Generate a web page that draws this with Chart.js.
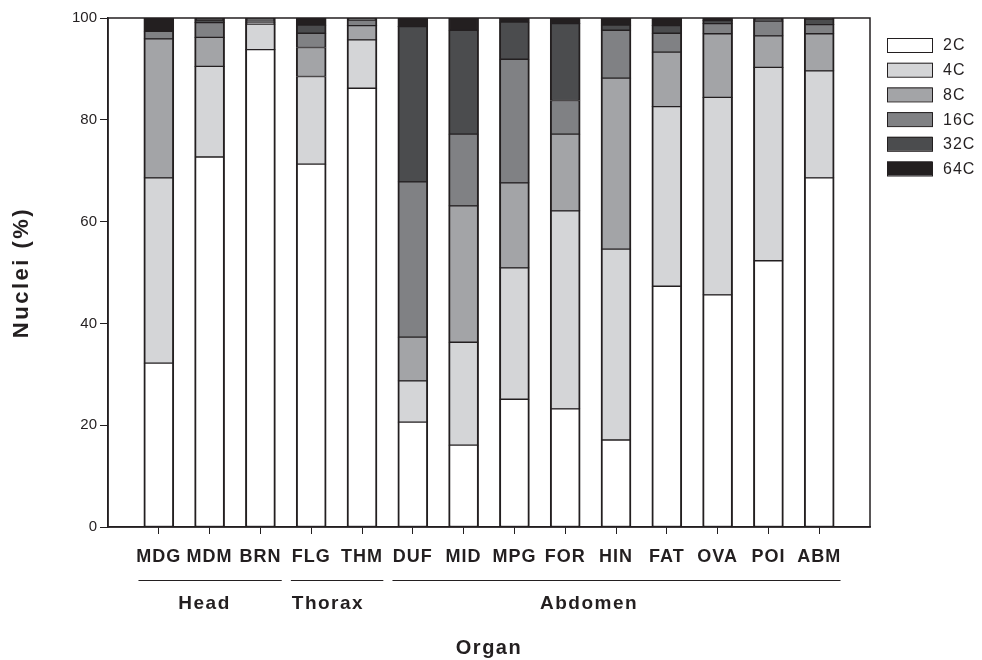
<!DOCTYPE html>
<html>
<head>
<meta charset="utf-8">
<script src="https://cdn.jsdelivr.net/npm/chart.js@4"></script>
<style>
	html, body { margin: 0; padding: 0; background: #ffffff; }
	#wrap { width: 982px; height: 660px; }
</style>
</head>
<body>
<div id="wrap"><canvas id="ploidyChart"></canvas></div>
<script>
const INK = '#231f20';

const organs = ['MDG', 'MDM', 'BRN', 'FLG', 'THM', 'DUF', 'MID', 'MPG', 'FOR', 'HIN', 'FAT', 'OVA', 'POI', 'ABM'];
const ploidyLabels = ['2C', '4C', '8C', '16C', '32C', '64C'];
const ploidyColors = ['#ffffff', '#d4d5d7', '#a3a4a7', '#808184', '#4b4c4e', '#231f20'];

const c2 = [32.2, 72.7, 93.8, 71.3, 86.2, 20.6, 16.1, 25.1, 23.2, 17.1, 47.3, 45.6, 52.3, 68.6];
const c4 = [36.4, 17.8, 5.0, 17.2, 9.5, 8.1, 20.2, 25.8, 38.9, 37.5, 35.3, 38.8, 38.0, 21.0];
const c8 = [27.3, 5.7, 0.4, 5.7, 2.8, 8.6, 26.8, 16.7, 15.1, 33.6, 10.7, 12.5, 6.2, 7.3];
const c16 = [1.5, 2.9, 0.4, 2.8, 1.1, 30.5, 14.1, 24.3, 6.6, 9.4, 3.7, 2.0, 2.9, 1.8];
const c32 = [0, 0.5, 0.2, 1.6, 0.2, 30.5, 20.4, 7.3, 15.1, 1.0, 1.5, 0.6, 0.4, 1.1];
const c64 = [2.6, 0.4, 0.2, 1.4, 0.2, 1.7, 2.4, 0.8, 1.1, 1.4, 1.5, 0.5, 0.2, 0.2];

const yTicks = [0, 20, 40, 60, 80, 100];

// body regions, by first and last organ index
const groupNames = ['Head', 'Thorax', 'Abdomen'];
const groupFirst = [0, 3, 5];
const groupLast = [2, 4, 13];

const series = [c2, c4, c8, c16, c32, c64];
const positions = organs.map((_, i) => i + 1);


function withSpacing(scale, fn, spacing) {
	if (scale['_orig_' + fn]) return;
	const orig = scale[fn];
	scale['_orig_' + fn] = orig;
	scale[fn] = function (...args) {
		const ctx = this.ctx;
		const old = ctx.letterSpacing;
		ctx.letterSpacing = spacing;
		orig.apply(this, args);
		ctx.letterSpacing = old;
	};
}

let plugins = [
	{
		id: 'letterSpacing',
		afterLayout: (chart) => {
			withSpacing(chart.scales.x, 'drawLabels', '1px');
			withSpacing(chart.scales.x, 'drawTitle', '1.5px');
			withSpacing(chart.scales.y, 'drawTitle', '2.5px');
		},
	},
	{
		id: 'frameBox',
		afterDatasetsDraw: (chart) => {
			const { ctx, chartArea: { top, right, bottom, left } } = chart;
			ctx.save();
			ctx.strokeStyle = INK;
			ctx.lineWidth = 1.5;
			ctx.strokeRect(left, top, right - left, bottom - top);
			ctx.restore();
		},
	},
	{
		id: 'organGroups',
		afterDraw: (chart, args, opts) => {
			const { ctx, scales: { x } } = chart;
			ctx.save();
			ctx.strokeStyle = INK;
			ctx.fillStyle = INK;
			ctx.lineWidth = 1;
			ctx.font = 'bold 19px "Liberation Sans", Arial, sans-serif';
			ctx.letterSpacing = '1.5px';
			ctx.textAlign = 'center';
			ctx.textBaseline = 'middle';
			groupNames.forEach((name, i) => {
				const x0 = x.getPixelForValue(positions[groupFirst[i]] - 0.4);
				const x1 = x.getPixelForValue(positions[groupLast[i]] + 0.42);
				ctx.beginPath();
				ctx.moveTo(x0, opts.lineY + 0.5);
				ctx.lineTo(x1, opts.lineY + 0.5);
				ctx.stroke();
				ctx.fillText(name, x.getPixelForValue(opts.labelAt[i]), opts.labelY);
			});
			ctx.restore();
		},
	},
	{
		id: 'sideLegend',
		afterDraw: (chart, args, opts) => {
			const { ctx } = chart;
			ctx.save();
			ctx.font = '16px "Liberation Sans", Arial, sans-serif';
			ctx.letterSpacing = '1px';
			ctx.textBaseline = 'middle';
			ctx.textAlign = 'left';
			chart.data.datasets.forEach((ds, i) => {
				const top = opts.top + i * opts.step;
				ctx.fillStyle = ds.backgroundColor;
				ctx.fillRect(opts.left, top, 45, 14);
				ctx.strokeStyle = INK;
				ctx.lineWidth = 1;
				ctx.strokeRect(opts.left + 0.5, top + 0.5, 45, 14);
				ctx.fillStyle = INK;
				ctx.fillText(ds.label, opts.left + 56, top + 8);
			});
			ctx.restore();
		},
	},
];


let chartOptions = {
	responsive: false,
	animation: false,
	layout: {
		padding: { left: 9, right: 112, top: 18, bottom: 0 },
	},
	scales: {
		x: {
			type: 'linear',
			stacked: true,
			offset: false,
			min: 0,
			max: 15,
			afterFit: (scale) => { scale.height = 133; },
			afterBuildTicks: (scale) => {
				scale.ticks = [0].concat(positions, [15]).map(v => ({ value: v }));
			},
			grid: {
				offset: false,
				drawOnChartArea: false,
				drawTicks: true,
				tickLength: 7,
				tickWidth: 1,
				tickColor: (ctx) => (ctx.tick && ctx.tick.value > 0 && ctx.tick.value < 15) ? INK : 'rgba(0,0,0,0)',
			},
			border: { color: INK, width: 1.5 },
			ticks: {
				autoSkip: false,
				maxRotation: 0,
				padding: 12,
				color: INK,
				font: { family: '"Liberation Sans", Arial, sans-serif', size: 18, weight: 'bold' },
				callback: (value) => organs[value - 1] || '',
			},
			title: {
				display: true,
				text: 'Organ',
				color: INK,
				padding: { top: 0, bottom: 0 },
				font: { family: '"Liberation Sans", Arial, sans-serif', size: 20, weight: 'bold' },
			},
		},
		y: {
			stacked: true,
			min: 0,
			max: 100,
			afterFit: (scale) => { scale.width = 99; },
			afterBuildTicks: (scale) => {
				scale.ticks = yTicks.map(v => ({ value: v }));
			},
			grid: {
				drawOnChartArea: false,
				drawTicks: true,
				tickLength: 8,
				tickColor: INK,
			},
			border: { color: INK, width: 1.5 },
			ticks: {
				padding: 3,
				color: INK,
				font: { family: '"Liberation Sans", Arial, sans-serif', size: 15 },
			},
			title: {
				display: true,
				text: 'Nuclei (%)',
				color: INK,
				padding: { top: 0, bottom: 0 },
				font: { family: '"Liberation Sans", Arial, sans-serif', size: 22, weight: 'bold' },
			},
		},
	},
	plugins: {
		legend: { display: false },
		tooltip: { enabled: false },
		organGroups: {
			lineY: 580,
			labelY: 604,
			labelAt: [1.9, 4.33, 9.47],
		},
		sideLegend: {
			left: 887,
			top: 38,
			step: 24.7,
		},
	},
};


const chartData = {
	labels: positions,
	datasets: series.map((vals, i) => ({
		label: ploidyLabels[i],
		data: vals,
		backgroundColor: ploidyColors[i],
		borderColor: INK,
		borderWidth: { left: 2, right: 2, top: 1, bottom: 1 },
		borderSkipped: false,
		barThickness: 30,
	})),
};

const canvas = document.getElementById('ploidyChart');
canvas.width = 982;
canvas.height = 660;
new Chart(canvas, { type: 'bar', data: chartData, options: chartOptions, plugins: plugins });
</script>
</body>
</html>
